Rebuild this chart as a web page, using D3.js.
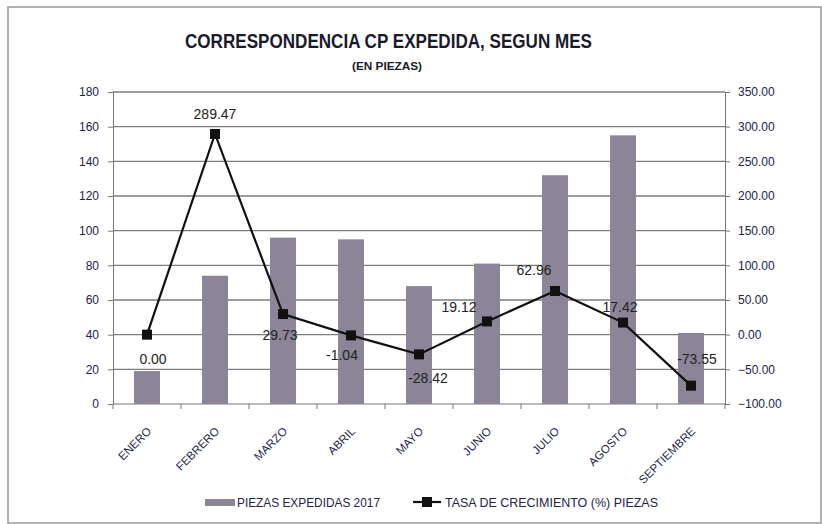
<!DOCTYPE html>
<html>
<head>
<meta charset="utf-8">
<script src="https://cdn.jsdelivr.net/npm/d3@7"></script>
<style>
  body { margin: 0; background: #fff; }
  svg { display: block; font-family: "Liberation Sans", sans-serif; }
</style>
</head>
<body>
<div id="chart"></div>
<script>
"use strict";

// data
const months = ["ENERO", "FEBRERO", "MARZO", "ABRIL", "MAYO", "JUNIO", "JULIO", "AGOSTO", "SEPTIEMBRE"];
const piezas = [19, 74, 96, 95, 68, 81, 132, 155, 41];
const tasa = [0.00, 289.47, 29.73, -1.04, -28.42, 19.12, 62.96, 17.42, -73.55];
const leftTicks = [0, 20, 40, 60, 80, 100, 120, 140, 160, 180];
const rightTicks = [-100, -50, 0, 50, 100, 150, 200, 250, 300, 350];

// where each data label sits relative to its marker (dx, dy to baseline)
const labelOffsets = [[6, 29], [0, -15], [-3, 26], [-9, 25], [9, 29], [-28, -9], [-21, -16], [-3, -11], [6, -22]];

const width = 822, height = 524;
const margin = { left: 113, right: 97, top: 92, bottom: 120 };

const svg = d3.select("#chart").append("svg")
    .attr("width", width)
    .attr("height", height);

// outer frame
svg.append("rect")
    .attr("x", 8).attr("y", 7)
    .attr("width", width - 9).attr("height", height - 8)
    .style("fill", "none")
    .style("stroke", "#999")
    .style("stroke-width", 1.5);

// titles (narrowed, the original uses a condensed face)
svg.append("text")
    .attr("x", 185).attr("y", 48)
    .attr("textLength", 407).attr("lengthAdjust", "spacingAndGlyphs")
    .style("font-size", "20px").style("font-weight", "bold").style("fill", "#1a1a2a")
    .text("CORRESPONDENCIA CP EXPEDIDA, SEGUN MES");
svg.append("text")
    .attr("x", 352).attr("y", 70)
    .attr("textLength", 70).attr("lengthAdjust", "spacingAndGlyphs")
    .style("font-size", "11px").style("font-weight", "bold").style("fill", "#1a1a2a")
    .text("(EN PIEZAS)");

const x = d3.scaleBand()
    .domain(months)
    .range([margin.left, width - margin.right]);

const yLeft = d3.scaleLinear()
    .domain([0, 180])
    .range([height - margin.bottom, margin.top]);

const yRight = d3.scaleLinear()
    .domain([-100, 350])
    .range([height - margin.bottom, margin.top]);

const gridColor = "#7c7c7c";
const textColor = "#23234a";

// horizontal gridlines
svg.append("g")
    .selectAll("line")
    .data(leftTicks.filter(t => t > 0))
    .enter()
    .append("line")
    .attr("x1", margin.left).attr("x2", width - margin.right)
    .attr("y1", d => yLeft(d)).attr("y2", d => yLeft(d))
    .style("stroke", gridColor)
    .style("stroke-width", 1.3);

// left axis
const leftAxis = svg.append("g")
    .attr("transform", `translate(${margin.left},0)`)
    .call(d3.axisLeft(yLeft).tickValues(leftTicks).tickSize(5).tickPadding(9));
leftAxis.selectAll("text").style("font-size", "12px").style("fill", textColor)
    .style("font-family", "'Liberation Sans', sans-serif");
leftAxis.selectAll("line, path").style("stroke", "#777");

// right axis
const rightAxis = svg.append("g")
    .attr("transform", `translate(${width - margin.right},0)`)
    .call(d3.axisRight(yRight).tickValues(rightTicks).tickSize(5).tickPadding(8)
        .tickFormat(d3.format(".2f")));
rightAxis.selectAll("text").style("font-size", "12px").style("fill", textColor)
    .style("font-family", "'Liberation Sans', sans-serif");
rightAxis.selectAll("line, path").style("stroke", "#777");

// bottom axis with ticks between categories
const baseY = yLeft(0);
svg.append("line")
    .attr("x1", margin.left).attr("x2", width - margin.right)
    .attr("y1", baseY).attr("y2", baseY)
    .style("stroke", "#777").style("stroke-width", 1.2);
svg.append("g")
    .selectAll("line")
    .data(months.concat(["end"]))
    .enter()
    .append("line")
    .attr("x1", (d, i) => margin.left + i * x.step())
    .attr("x2", (d, i) => margin.left + i * x.step())
    .attr("y1", baseY).attr("y2", baseY + 5)
    .style("stroke", "#777");

// month labels, rotated
svg.append("g")
    .selectAll("text")
    .data(months)
    .enter()
    .append("text")
    .attr("transform", d => `translate(${x(d) + x.bandwidth() / 2 + 5},${baseY + 28}) rotate(-45)`)
    .attr("text-anchor", "end")
    .style("font-size", "11.5px")
    .style("fill", textColor)
    .text(d => d);

// bars
const barW = 26;
svg.append("g")
    .selectAll("rect")
    .data(piezas)
    .enter()
    .append("rect")
    .attr("x", (d, i) => x(months[i]) + x.bandwidth() / 2 - barW / 2)
    .attr("y", d => yLeft(d))
    .attr("width", barW)
    .attr("height", d => baseY - yLeft(d))
    .style("fill", "#8b8597");

// growth line
const line = d3.line()
    .x((d, i) => x(months[i]) + x.bandwidth() / 2)
    .y(d => yRight(d));

svg.append("path")
    .datum(tasa)
    .attr("d", line)
    .style("fill", "none")
    .style("stroke", "#111")
    .style("stroke-width", 2.2);

svg.append("g")
    .selectAll("rect")
    .data(tasa)
    .enter()
    .append("rect")
    .attr("x", (d, i) => x(months[i]) + x.bandwidth() / 2 - 5)
    .attr("y", d => yRight(d) - 5)
    .attr("width", 10).attr("height", 10)
    .style("fill", "#111");

// data labels
svg.append("g")
    .selectAll("text")
    .data(tasa)
    .enter()
    .append("text")
    .attr("x", (d, i) => x(months[i]) + x.bandwidth() / 2 + labelOffsets[i][0])
    .attr("y", (d, i) => yRight(d) + labelOffsets[i][1])
    .attr("text-anchor", "middle")
    .style("font-size", "14px")
    .style("fill", "#222")
    .text(d => d.toFixed(2));

// legend
const legend = svg.append("g").attr("transform", "translate(0,502)");
legend.append("rect")
    .attr("x", 205).attr("y", -3)
    .attr("width", 30).attr("height", 7)
    .style("fill", "#8b8597");
legend.append("text")
    .attr("x", 237).attr("y", 5)
    .attr("textLength", 143).attr("lengthAdjust", "spacingAndGlyphs")
    .style("font-size", "13px").style("fill", textColor)
    .text("PIEZAS EXPEDIDAS 2017");
legend.append("line")
    .attr("x1", 413).attr("x2", 441)
    .attr("y1", 0).attr("y2", 0)
    .style("stroke", "#111").style("stroke-width", 2.2);
legend.append("rect")
    .attr("x", 422).attr("y", -5)
    .attr("width", 10).attr("height", 10)
    .style("fill", "#111");
legend.append("text")
    .attr("x", 445).attr("y", 5)
    .attr("textLength", 213).attr("lengthAdjust", "spacingAndGlyphs")
    .style("font-size", "13px").style("fill", textColor)
    .text("TASA DE CRECIMIENTO  (%) PIEZAS");
</script>
</body>
</html>
